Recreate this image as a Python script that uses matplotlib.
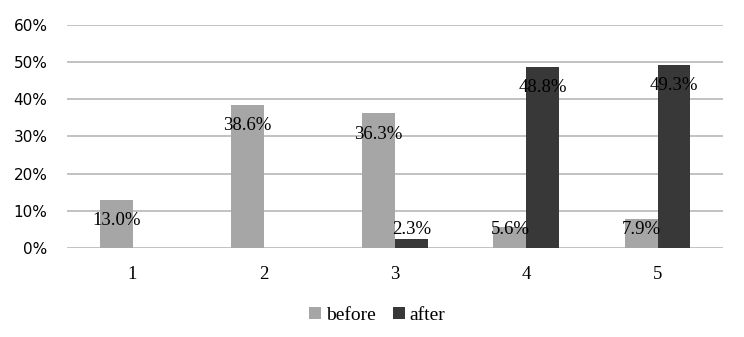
import matplotlib
matplotlib.use("Agg")
import matplotlib.pyplot as plt
import numpy as np

categories = ["1", "2", "3", "4", "5"]
before = [13.0, 38.6, 36.3, 5.6, 7.9]
after = [0.0, 0.0, 2.3, 48.8, 49.3]
yticks = [0, 10, 20, 30, 40, 50, 60]

c_before = "#a6a6a6"
c_after = "#383838"
serif = ["Liberation Serif", "DejaVu Serif"]

fig = plt.figure(figsize=(7.44, 3.37), dpi=100)
ax = fig.add_axes([0.090, 0.264, 0.882, 0.662])

x = np.arange(len(categories))
w = 0.25
ax.bar(x - w / 2, before, w, color=c_before, label="before", zorder=3)
ax.bar(x + w / 2, after, w, color=c_after, label="after", zorder=3)

def lab_y(v):
    return max(v - 5.7, 5.1)

for i, v in enumerate(before):
    if v > 0:
        ax.text(x[i] - w / 2, lab_y(v), f"{v:.1f}%", ha="center", va="center",
                fontsize=13.5, family=serif, color="black", zorder=4)
for i, v in enumerate(after):
    if v > 0:
        ax.text(x[i] + w / 2, lab_y(v), f"{v:.1f}%", ha="center", va="center",
                fontsize=13.5, family=serif, color="black", zorder=4)

ax.set_xlim(-0.5, len(categories) - 0.5)
ax.set_ylim(0, 60)
ax.set_yticks(yticks)
ax.set_yticklabels([f"{t}%" for t in yticks], fontsize=11, family=["DejaVu Sans"])
ax.set_xticks(x)
ax.set_xticklabels(categories, fontsize=13.5, family=serif)
ax.tick_params(axis="both", length=0)
ax.tick_params(axis="y", pad=14)
ax.tick_params(axis="x", pad=13)
ax.grid(axis="y", color="#b8b8b8", linewidth=1.2, zorder=0)
for s in ax.spines.values():
    s.set_visible(False)

leg = fig.legend(loc="center", bbox_to_anchor=(0.507, 0.065), ncol=2, frameon=False,
                 prop={"family": serif, "size": 14}, handlelength=0.6, handleheight=0.6,
                 handletextpad=0.25, columnspacing=0.9)

fig.savefig("out.png", dpi=100)
